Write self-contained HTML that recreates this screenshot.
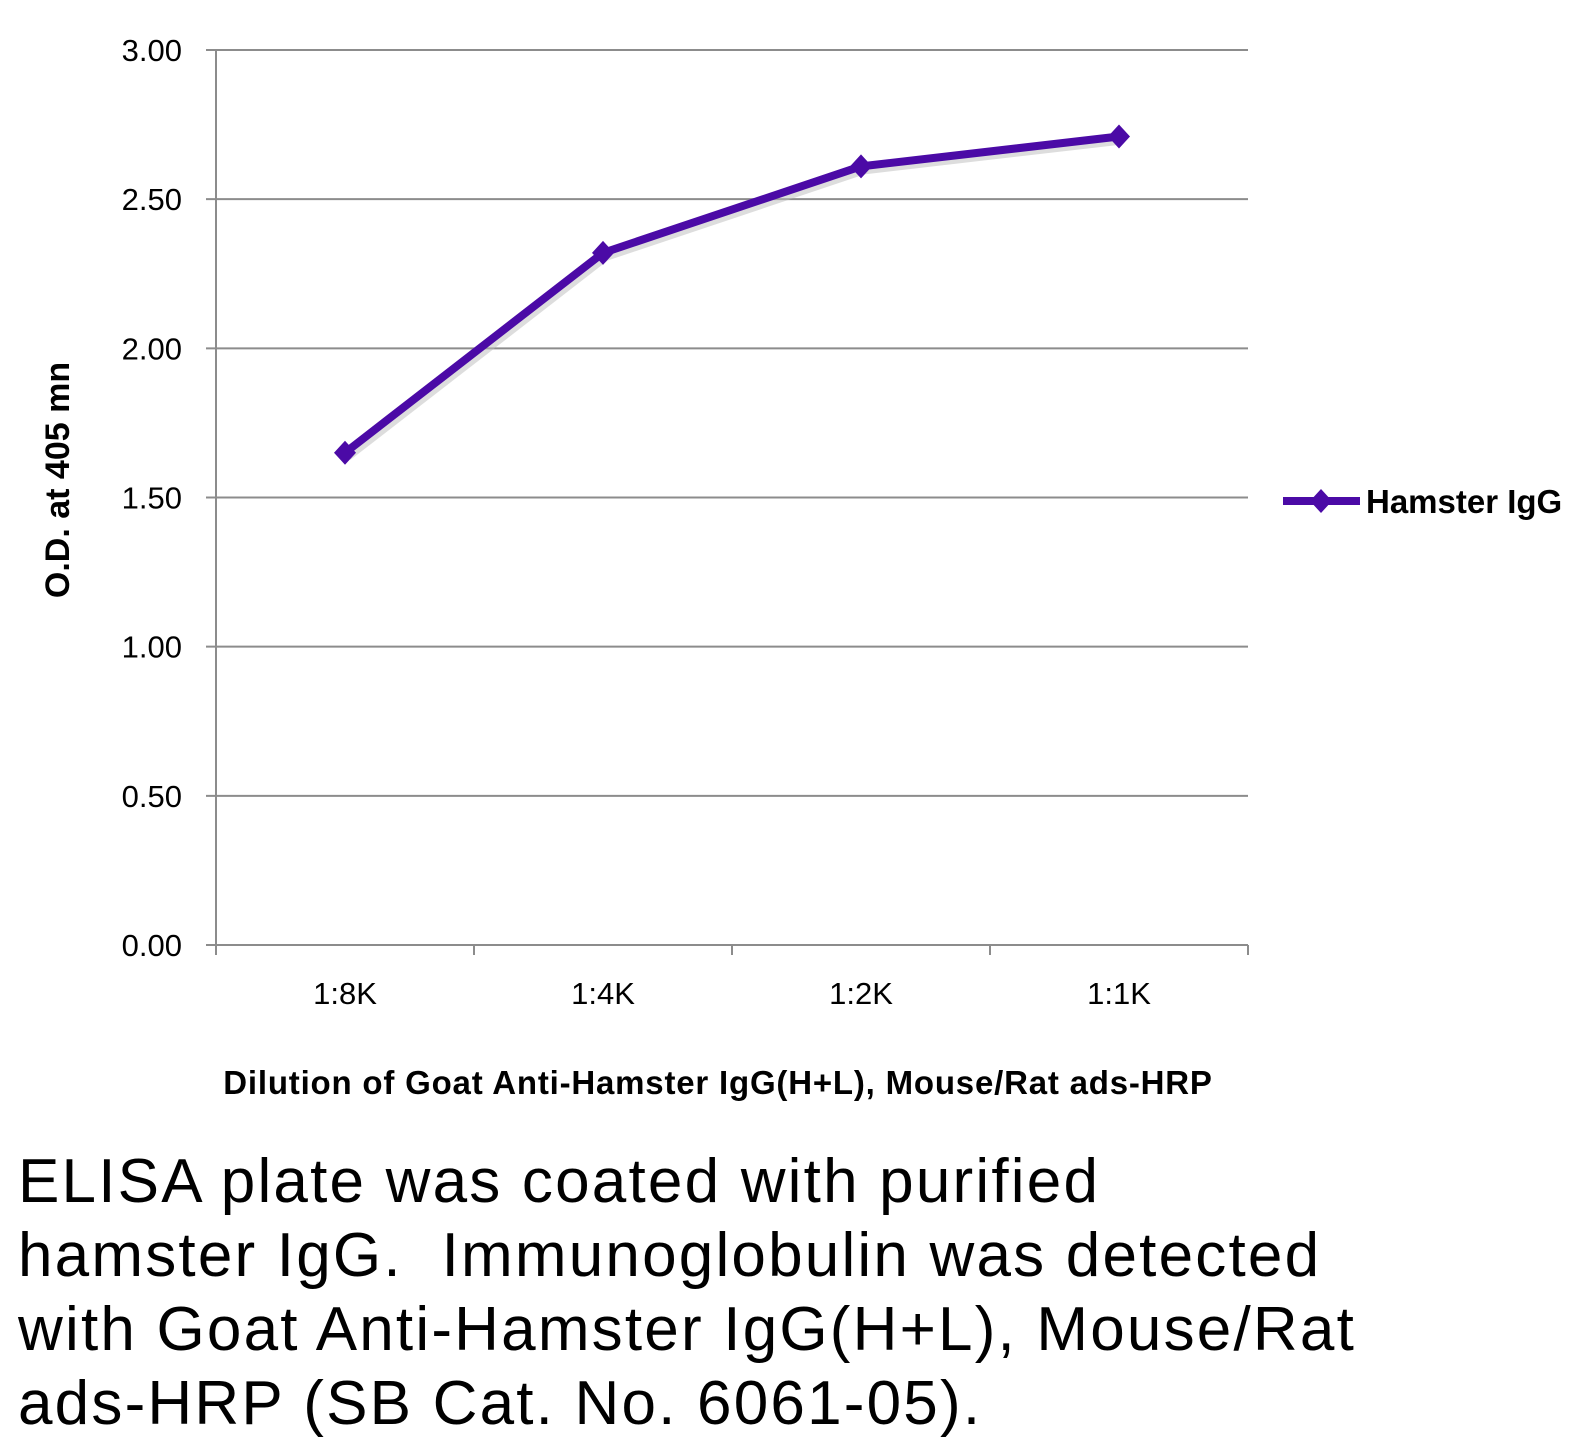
<!DOCTYPE html>
<html><head><meta charset="utf-8"><style>
body{margin:0;background:#fff;width:1595px;height:1456px;overflow:hidden;font-family:"Liberation Sans",sans-serif}
#cap{position:absolute;left:18px;top:1145px;font-size:62px;line-height:74px;color:#000;width:1560px;letter-spacing:2.2px;white-space:nowrap}
</style></head><body>
<svg id="chart" width="1595" height="1120" style="position:absolute;left:0;top:0"></svg>
<div id="cap">ELISA plate was coated with purified<br>hamster IgG.&nbsp; Immunoglobulin was detected<br>with Goat Anti-Hamster IgG(H+L), Mouse/Rat<br>ads-HRP (SB Cat. No. 6061-05).</div>
<script>
const categories=["1:8K","1:4K","1:2K","1:1K"];
const values=[1.65,2.32,2.61,2.71];
const yTicks=[0,0.5,1,1.5,2,2.5,3];
const yTickLabels=["0.00","0.50","1.00","1.50","2.00","2.50","3.00"];
const NS="http://www.w3.org/2000/svg";
const svg=document.getElementById('chart');
const L=216,R=1248,T=50,B=945;
const y=v=>B-(v/3)*(B-T);
const band=(R-L)/categories.length;
const x=i=>L+band*(i+0.5);
function mk(t,a,p){const e=document.createElementNS(NS,t);for(const k in a)e.setAttribute(k,a[k]);(p||svg).appendChild(e);return e;}
yTicks.forEach((v,i)=>{
 const g=mk('line',{x1:L-10,x2:R,y1:y(v),y2:y(v),stroke:'#8c8c8c','stroke-width':2});
 
 
 const t=mk('text',{x:182,y:y(v)+11,'text-anchor':'end','font-size':31,fill:'#000'});
 t.textContent=yTickLabels[i];
 
 
});
const ax=mk('line',{x1:L,x2:L,y1:T,y2:B,stroke:'#8c8c8c','stroke-width':2});


for(let i=0;i<=categories.length;i++){
 const tk=mk('line',{x1:L+band*i,x2:L+band*i,y1:B,y2:B+10,stroke:'#8c8c8c','stroke-width':2});
 
 
}
categories.forEach((c,i)=>{
 const t=mk('text',{x:x(i),y:1004,'text-anchor':'middle','font-size':31,fill:'#000'});
 t.textContent=c;
 
 
});
const pts=values.map((v,i)=>x(i)+','+y(v)).join(' ');
const sh=mk('polyline',{points:values.map((v,i)=>(x(i)+3)+','+(y(v)+4)).join(' '),fill:'none',stroke:'#bbb','stroke-width':8,opacity:0.5});


const ln=mk('polyline',{points:pts,fill:'none',stroke:'#4b0aa6','stroke-width':8,'stroke-linejoin':'round'});


values.forEach((v,i)=>{
 const cx=x(i),cy=y(v);
 const m=mk('polygon',{points:`${cx},${cy-12} ${cx+11},${cy} ${cx},${cy+12} ${cx-11},${cy}`,fill:'#4b0aa6'});
 
 
});
const ly=501;
const ll=mk('line',{x1:1283,x2:1360,y1:ly,y2:ly,stroke:'#4b0aa6','stroke-width':8});


const lm=mk('polygon',{points:`1321,${ly-12} 1332,${ly} 1321,${ly+12} 1310,${ly}`,fill:'#4b0aa6'});


const lt=mk('text',{x:1366,y:ly+12,'font-size':33,'font-weight':'bold',fill:'#000'});
lt.textContent='Hamster IgG';


const yt=mk('text',{x:0,y:0,'text-anchor':'middle','font-size':34,'font-weight':'bold',fill:'#000',transform:`translate(69,480) rotate(-90)`});
yt.textContent='O.D. at 405 mn';


const xt=mk('text',{x:718,y:1094,'text-anchor':'middle','font-size':33,'font-weight':'bold',fill:'#000','letter-spacing':'0.8'});
xt.textContent='Dilution of Goat Anti-Hamster IgG(H+L), Mouse/Rat ads-HRP';


</script>
</body></html>
